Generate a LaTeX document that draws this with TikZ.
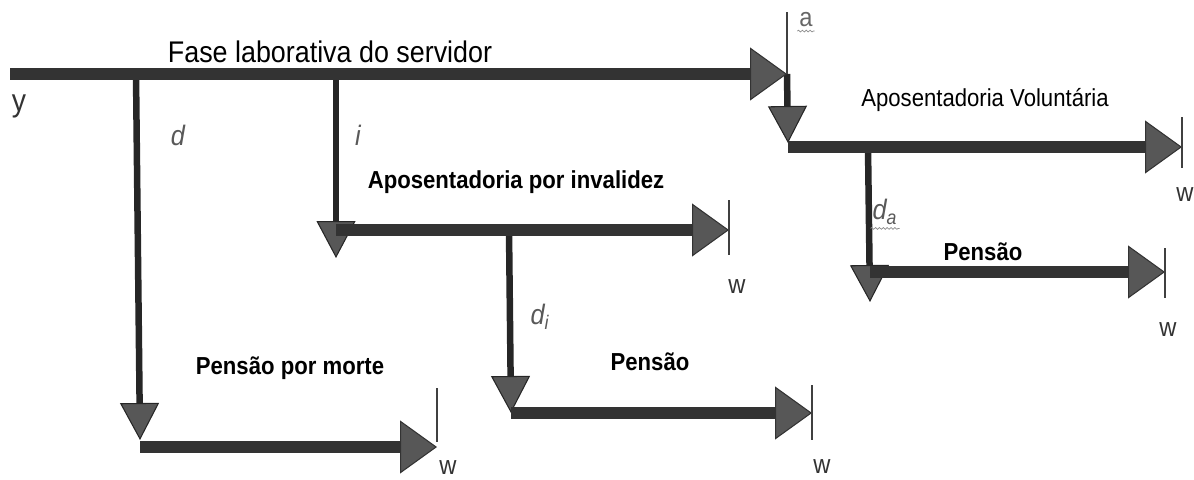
\documentclass[tikz,border=0pt]{standalone}
\usepackage{fontspec}
\setmainfont{Liberation Sans}[FakeStretch=0.9]
\usetikzlibrary{arrows.meta,decorations.pathmorphing}

\tikzset{
  haste/.style={draw=black!80, line width=0.24cm,
    -{Triangle[length=0.74cm,width=1.06cm,line width=0.6pt,fill=black!66]}},
  queda/.style={draw=black!85, line width=0.13cm,
    -{Triangle[length=0.74cm,width=0.78cm,line width=0.6pt,fill=black!66]}},
  marca/.style={draw=black!75, line width=0.6pt},
  rotulo/.style={font=\fontsize{14}{16}\selectfont\bfseries},
  letra/.style={font=\fontsize{16}{18}\selectfont\itshape, text=black!65, inner sep=1pt},
  fim/.style={font=\fontsize{15}{17}\selectfont, text=black!80, inner sep=1pt},
  ondas/.style={draw=black!45, line width=0.4pt, decorate,
    decoration={snake, amplitude=0.5pt, segment length=2.2pt}}
}

\begin{document}
\begin{tikzpicture}[x=0.02cm, y=-0.02cm]
\useasboundingbox (0,0) rectangle (1194,480);

% pontos
\coordinate (y0) at (10,74);
\coordinate (a0) at (787,74);
\coordinate (d0) at (136,74);
\coordinate (i0) at (336,74);
\coordinate (vol0) at (788,143);
\coordinate (vol1) at (788,147);
\coordinate (volw) at (1182,147);
\coordinate (da0) at (868,147);
\coordinate (da1) at (870,302);
\coordinate (pa0) at (870,272);
\coordinate (paw) at (1165,272);
\coordinate (inv0) at (336,258);
\coordinate (inv1) at (336,230);
\coordinate (invw) at (729,230);
\coordinate (di0) at (509,230);
\coordinate (di1) at (511,413);
\coordinate (pi0) at (511,413);
\coordinate (piw) at (812,413);
\coordinate (m0) at (140,440);
\coordinate (m1) at (140,447);
\coordinate (mw) at (437,447);

% ramos verticais
\draw[queda] (a0) -- (vol0);
\draw[queda] (d0) -- (m0);
\draw[queda] (i0) -- (inv0);
\draw[queda] (da0) -- (da1);
\draw[queda] (di0) -- (di1);

% fases
\draw[haste] (y0) -- (a0);
\draw[haste] (vol1) -- (volw);
\draw[haste] (pa0) -- (paw);
\draw[haste] (inv1) -- (invw);
\draw[haste] (pi0) -- (piw);
\draw[haste] (m1) -- (mw);

% marcas no fim
\draw[marca] (a0) -- ++(0,-62);
\draw[marca] (volw) ++(0,-30) -- ++(0,51);
\draw[marca] (paw) ++(0,-24) -- ++(0,50);
\draw[marca] (invw) ++(0,-30) -- ++(0,55);
\draw[marca] (piw) ++(0,-28) -- ++(0,55);
\draw[marca] (mw) ++(0,-59) -- ++(0,54);

% textos
\node[font=\fontsize{17}{20}\selectfont] (fase) at (330,52) {Fase laborativa do servidor};
\node[font=\fontsize{14}{16}\selectfont] (volunt) at (985,100) {Aposentadoria Voluntária};
\node[rotulo] (invalid) at (516,182) {Aposentadoria por invalidez};
\node[rotulo] (pensa) at (983,252) {Pensão};
\node[rotulo] (pensi) at (650,362) {Pensão};
\node[rotulo] (pensm) at (290,368) {Pensão por morte};

\node[fim, font=\fontsize{18}{20}\selectfont] (ylab) at (19,106) {y};
\node[fim, text=black!60] (alab) at (806,20) {a};
\draw[ondas] ([yshift=-1pt]alab.south west) -- ([yshift=-1pt]alab.south east);
\node[letra] (dlab) at (178,135) {d};
\node[letra] (ilab) at (358,135) {i};
\node[letra] (dalab) at (885,212) {d\textsubscript{a}};
\draw[ondas] ([yshift=-1pt]dalab.south west) -- ([yshift=-1pt]dalab.south east);
\node[letra] (dilab) at (540,317) {d\textsubscript{i}};

\node[fim] (w1) at (1185,195) {w};
\node[fim] (w2) at (1168,330) {w};
\node[fim] (w3) at (737,287) {w};
\node[fim] (w4) at (822,467) {w};
\node[fim] (w5) at (448,468) {w};
\end{tikzpicture}
\end{document}
